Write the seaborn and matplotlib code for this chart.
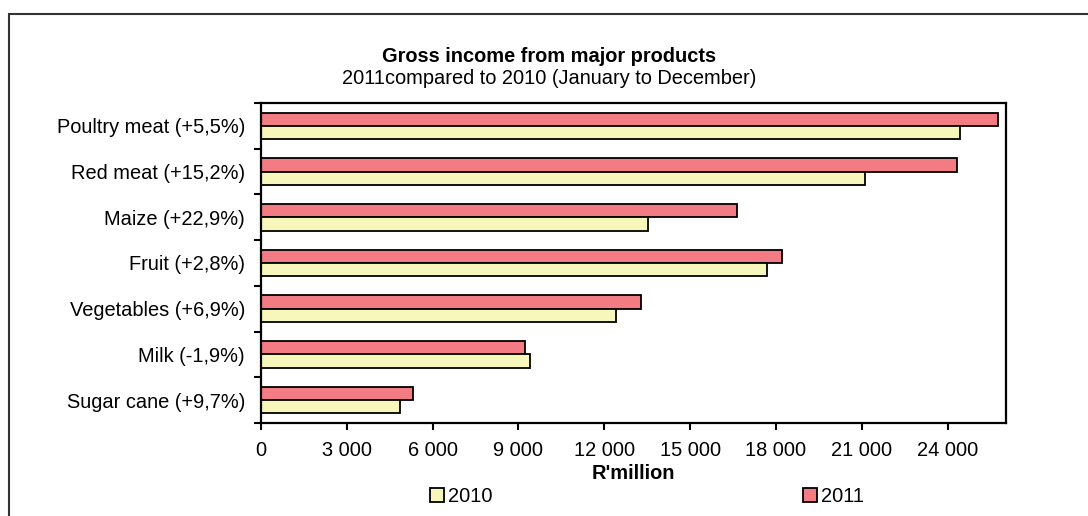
import matplotlib
matplotlib.use("Agg")
import matplotlib.pyplot as plt
from matplotlib.patches import Rectangle, Patch
from matplotlib.ticker import FixedLocator, FuncFormatter
import seaborn as sns
import pandas as pd

# Gross income (R'million) per product
products = [
    "Poultry meat (+5,5%)",
    "Red meat (+15,2%)",
    "Maize (+22,9%)",
    "Fruit (+2,8%)",
    "Vegetables (+6,9%)",
    "Milk (-1,9%)",
    "Sugar cane (+9,7%)",
]
income_2010 = [24420, 21120, 13530, 17680, 12410, 9410, 4860]
income_2011 = [25760, 24320, 16630, 18200, 13270, 9230, 5330]
years = ["2010", "2011"]
x_ticks = [0, 3000, 6000, 9000, 12000, 15000, 18000, 21000, 24000]

colors = {"2010": "#F7F7BC", "2011": "#F37B83"}

df = pd.DataFrame({
    "product": products * 2,
    "year": ["2010"] * len(products) + ["2011"] * len(products),
    "income": income_2010 + income_2011,
})

sns.set_style("white")
plt.rcParams["font.family"] = ["Liberation Sans", "DejaVu Sans"]
plt.rcParams["text.color"] = "black"
plt.rcParams["xtick.color"] = "black"
plt.rcParams["ytick.color"] = "black"
plt.rcParams["axes.labelcolor"] = "black"

FS = 14.4
W, H = 1088, 516
fig = plt.figure(figsize=(W / 100, H / 100), dpi=100)
ax = fig.add_axes([261 / W, 1 - 423 / H, (1006 - 261) / W, (423 - 103) / H])

sns.barplot(
    data=df, y="product", x="income", hue="year",
    hue_order=["2011", "2010"], order=products,
    palette=colors, width=0.58, orient="h",
    edgecolor="black", linewidth=1.3, saturation=1,
    ax=ax, legend=False,
)

ax.set_xlim(0, 26040)
ax.set_ylim(len(products) - 0.5, -0.5)
ax.xaxis.set_major_locator(FixedLocator(x_ticks))
ax.xaxis.set_major_formatter(FuncFormatter(lambda v, p: f"{int(v):,}".replace(",", " ")))
ax.tick_params(axis="x", direction="out", length=5, width=1.5, color="black",
               labelsize=FS, labelcolor="black", pad=8, bottom=True)

# category boundaries get the tick marks, labels sit at the centres
centres = list(range(len(products)))
bounds = [i - 0.5 for i in range(len(products) + 1)]
ax.yaxis.set_major_locator(FixedLocator(bounds))
ax.yaxis.set_major_formatter(FuncFormatter(lambda v, p: ""))
ax.yaxis.set_minor_locator(FixedLocator(centres))
ax.yaxis.set_minor_formatter(FuncFormatter(lambda v, p: products[int(round(v))]))
ax.tick_params(axis="y", which="major", direction="out", length=5, width=1.5,
               color="black", left=True)
ax.tick_params(axis="y", which="minor", length=0, labelsize=FS, labelcolor="black",
               pad=11.5, left=True)

ax.set_ylabel("")
ax.set_xlabel("R'million", fontsize=FS, fontweight="bold", labelpad=3, color="black")
for s in ax.spines.values():
    s.set_visible(True)
    s.set_color("black")
    s.set_linewidth(1.6)

fig.text(549 / W, 1 - 56 / H, "Gross income from major products",
         ha="center", va="center", fontsize=FS, fontweight="bold")
fig.text(549 / W, 1 - 79 / H, "2011compared to 2010 (January to December)",
         ha="center", va="center", fontsize=FS)

handles = [Patch(facecolor=colors[y], edgecolor="black", linewidth=1.3, label=y) for y in years]
fig.legend(handles=handles, loc="center", bbox_to_anchor=(647 / W, 1 - 496 / H),
           ncol=2, frameon=False, fontsize=FS, handlelength=0.7, handleheight=0.7,
           handletextpad=0.2, columnspacing=15.5, borderpad=0, borderaxespad=0)

# outer chart frame
fig.add_artist(Rectangle((9 / W, -0.1), 1.2, 1 - 14 / H + 0.1,
                         transform=fig.transFigure, fill=False,
                         edgecolor="#333333", linewidth=1.5))

fig.savefig("out.png", dpi=100)
